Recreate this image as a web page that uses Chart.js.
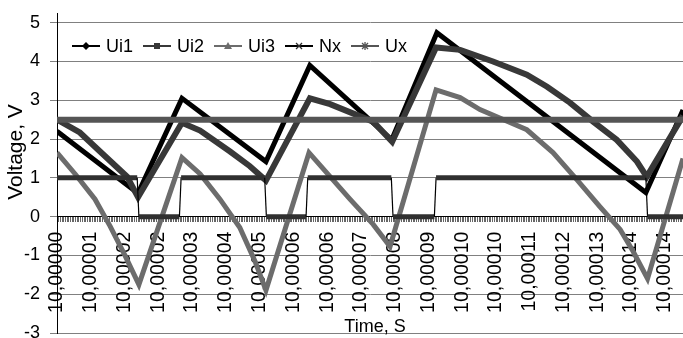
<!DOCTYPE html>
<html>
<head>
<meta charset="utf-8">
<script src="https://cdn.jsdelivr.net/npm/chart.js@4.4.1/dist/chart.umd.min.js"></script>
<style>
  html, body { margin: 0; padding: 0; background: #fff; }
  #wrap { width: 683px; height: 338px; }
</style>
</head>
<body>
<div id="wrap"><canvas id="chart" width="683" height="338"></canvas></div>
<script>
// x values are microseconds after 10 s, labels every 8 us
const timeLabels = ['10,00000', '10,00001', '10,00002', '10,00002', '10,00003', '10,00004', '10,00005',
	'10,00006', '10,00006', '10,00007', '10,00008', '10,00009', '10,00010', '10,00010',
	'10,00011', '10,00012', '10,00013', '10,00014', '10,00014'];
const yTicks = [-3, -2, -1, 0, 1, 2, 3, 4, 5];

const ui1T = [0, 19.2, 29.6, 49.5, 59.9, 79.3, 90.0, 139.5, 148.3];
const ui1V = [2.2, 0.6, 3.05, 1.42, 3.9, 1.98, 4.74, 0.62, 2.75];

const ui2T = [0, 5.4, 10.2, 16.6, 19.2, 29.6, 33.9, 41.0, 45.7, 49.5, 59.9, 64.7, 74.9, 79.4,
	89.8, 95.5, 103.3, 111.3, 116.1, 121.5, 127.0, 132.6, 137.4, 139.7, 148.3];
const ui2V = [2.5, 2.17, 1.68, 1.03, 0.5, 2.42, 2.22, 1.68, 1.3, 0.93, 3.05, 2.9, 2.45, 1.93,
	4.36, 4.3, 4.0, 3.66, 3.35, 2.94, 2.45, 1.98, 1.42, 1.03, 2.6];

const ui3T = [0, 4.3, 9.0, 12.6, 16.1, 19.4, 29.6, 33.9, 38.6, 43.3, 46.9, 49.5, 59.7, 64.7,
	69.4, 74.9, 78.9, 89.8, 95.5, 100.2, 111.3, 117.5, 123.2, 128.6, 133.4, 136.5, 139.9, 148.3];
const ui3V = [1.65, 1.1, 0.45, -0.25, -1.0, -1.75, 1.52, 1.1, 0.45, -0.28, -1.15, -1.9, 1.65, 1.03,
	0.45, -0.2, -0.77, 3.27, 3.07, 2.76, 2.24, 1.65, 0.95, 0.26, -0.33, -0.9, -1.6, 1.5];

const nxT = [0, 19.0, 19.4, 29.0, 29.4, 49.2, 49.6, 59.0, 59.4, 79.2, 79.6, 89.4, 89.8, 139.5, 139.9, 148.3];
const nxV = [1, 1, 0, 0, 1, 1, 0, 0, 1, 1, 0, 0, 1, 1, 0, 0];

const uxT = [0, 148.3];
const uxV = [2.5, 2.5];

const FONT = '"Liberation Sans", Arial, sans-serif';
Chart.defaults.font.family = FONT;
Chart.defaults.font.size = 18;
Chart.defaults.color = '#000';

function series(label, t, v, color, width, order, marker){
	return {
		label: label,
		data: t.map((x, i) => ({x: x, y: v[i]})),
		borderColor: color,
		backgroundColor: color,
		borderWidth: width,
		pointRadius: 0,
		tension: 0,
		order: order,
		marker: marker
	};
}

const datasets = [
	series('Ui1', ui1T, ui1V, '#000000', 5, 5, 'diamond'),
	series('Ui2', ui2T, ui2V, '#383838', 6, 4, 'square'),
	series('Ui3', ui3T, ui3V, '#6c6c6c', 5, 3, 'triangle'),
	series('Nx', nxT, nxV, '#303030', 5, 2, 'cross'),
	series('Ux', uxT, uxV, '#555555', 6, 1, 'star')
];
// Nx: thick band on the levels, thin black line on the jumps
datasets[3].segment = {
	borderWidth: c => c.p0.parsed.y === c.p1.parsed.y ? 5 : 1.2,
	borderColor: c => c.p0.parsed.y === c.p1.parsed.y ? '#303030' : '#000'
};
datasets[3].legendLine = '#000';

function drawMarker(ctx, type, x, y, color){
	ctx.fillStyle = color;
	ctx.strokeStyle = color;
	ctx.lineWidth = 1.3;
	ctx.beginPath();
	if (type === 'diamond'){
		ctx.moveTo(x, y - 4); ctx.lineTo(x + 4, y); ctx.lineTo(x, y + 4); ctx.lineTo(x - 4, y);
		ctx.closePath(); ctx.fill();
	} else if (type === 'square'){
		ctx.fillRect(x - 3, y - 3, 6, 6);
	} else if (type === 'triangle'){
		ctx.moveTo(x, y - 4); ctx.lineTo(x + 4, y + 3); ctx.lineTo(x - 4, y + 3);
		ctx.closePath(); ctx.fill();
	} else if (type === 'cross'){
		ctx.moveTo(x - 3, y - 3); ctx.lineTo(x + 3, y + 3);
		ctx.moveTo(x + 3, y - 3); ctx.lineTo(x - 3, y + 3);
		ctx.stroke();
	} else if (type === 'star'){
		ctx.moveTo(x - 3, y - 3); ctx.lineTo(x + 3, y + 3);
		ctx.moveTo(x + 3, y - 3); ctx.lineTo(x - 3, y + 3);
		ctx.moveTo(x, y - 4); ctx.lineTo(x, y + 4);
		ctx.stroke();
	}
}

// legend inside the plot, axis titles
const extras = {
	id: 'extras',
	afterDraw(chart){
		const ctx = chart.ctx;
		const area = chart.chartArea;
		ctx.save();
		ctx.font = '18px ' + FONT;
		ctx.textBaseline = 'middle';
		let x = 72;
		const y = 46;
		chart.data.datasets.forEach(ds => {
			ctx.strokeStyle = ds.legendLine || ds.borderColor;
			ctx.lineWidth = 2;
			ctx.beginPath();
			ctx.moveTo(x, y);
			ctx.lineTo(x + 28, y);
			ctx.stroke();
			drawMarker(ctx, ds.marker, x + 14, y, ds.borderColor);
			ctx.fillStyle = '#000';
			ctx.textAlign = 'left';
			ctx.fillText(ds.label, x + 34, y + 1);
			x += 34 + ctx.measureText(ds.label).width + 10;
		});
		// x title just under the rotated time labels
		ctx.textAlign = 'center';
		ctx.fillText('Time, S', (area.left + area.right) / 2 + 5, 327);
		ctx.font = '21px ' + FONT;
		ctx.translate(16, 152);
		ctx.rotate(-Math.PI / 2);
		ctx.fillText('Voltage, V', 0, 0);
		ctx.restore();
	}
};

new Chart(document.getElementById('chart'), {
	type: 'line',
	data: { datasets: datasets },
	options: {
		responsive: false,
		animation: false,
		devicePixelRatio: 1,
		layout: { padding: { left: 0, right: 0, top: 13, bottom: 5 } },
		plugins: { legend: { display: false }, tooltip: { enabled: false } },
		scales: {
			x: {
				type: 'linear',
				min: 0,
				max: 148.3,
				position: { y: 0 },
				afterBuildTicks: s => {
					const ticks = [];
					for (let i = 0; i <= 370; i++) ticks.push({ value: i * 0.4 });
					s.ticks = ticks;
				},
				afterFit: s => { s.paddingLeft = 0; s.paddingRight = 0; },
				grid: { drawOnChartArea: false, drawTicks: true, tickLength: 5, color: '#666', lineWidth: 1 },
				border: { display: true, color: '#000', width: 1 },
				ticks: {
					autoSkip: false,
					minRotation: 90,
					maxRotation: 90,
					padding: 10,
					font: { size: 19.5 },
					callback: (v, i) => i % 20 === 0 ? timeLabels[i / 20] : ''
				},
				title: { display: false }
			},
			y: {
				type: 'linear',
				min: -3,
				max: 5.25,
				afterBuildTicks: s => { s.ticks = yTicks.map(v => ({ value: v })); },
				afterFit: s => { s.width = 57; s.paddingTop = 0; s.paddingBottom = 0; },
				grid: { color: '#808080', lineWidth: 1, tickLength: 7 },
				border: { display: true, color: '#000', width: 1 },
				ticks: { padding: 10 }
			}
		}
	},
	plugins: [extras]
});
</script>
</body>
</html>
